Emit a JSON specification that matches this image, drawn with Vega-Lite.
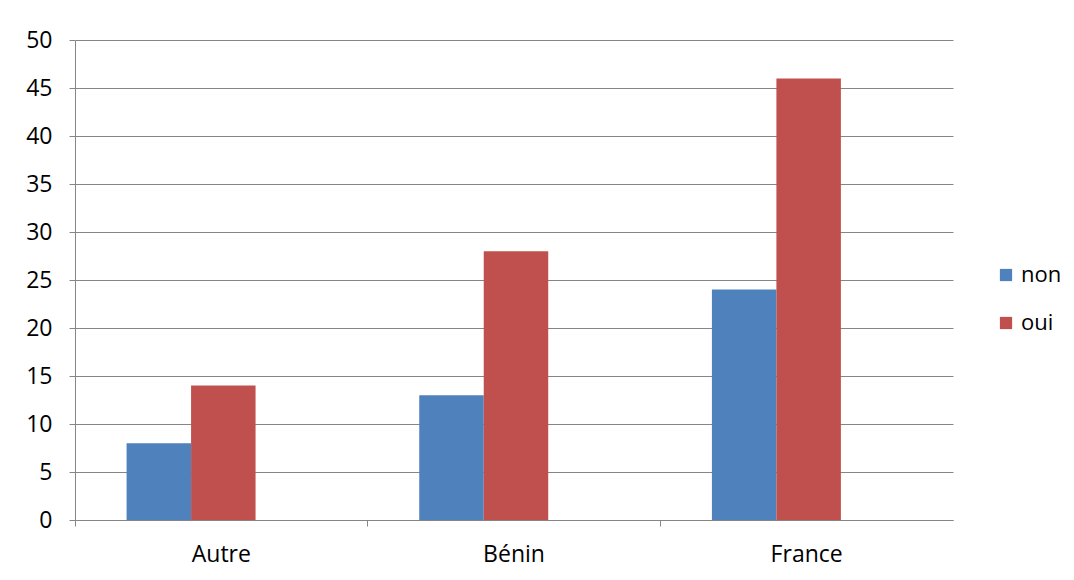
{
  "$schema": "https://vega.github.io/schema/vega-lite/v6.json",
  "autosize": {"type": "none"},
  "width": 878,
  "height": 480,
  "padding": {"left": 75, "top": 40, "right": 121, "bottom": 60},
  "background": "white",
  "data": {
    "values": [
      {"pays": "Autre", "reponse": "non", "n": 8},
      {"pays": "Autre", "reponse": "oui", "n": 14},
      {"pays": "Bénin", "reponse": "non", "n": 13},
      {"pays": "Bénin", "reponse": "oui", "n": 28},
      {"pays": "France", "reponse": "non", "n": 24},
      {"pays": "France", "reponse": "oui", "n": 46}
    ]
  },
  "mark": {"type": "bar"},
  "encoding": {
    "x": {
      "field": "pays",
      "type": "nominal",
      "sort": ["Autre", "Bénin", "France"],
      "scale": {"paddingInner": 0, "paddingOuter": 0},
      "axis": {
        "title": null,
        "labelAngle": 0,
        "bandPosition": 0,
        "grid": false,
        "ticks": true,
        "tickSize": 6,
        "tickColor": "#868686",
        "domainColor": "#868686",
        "labelPadding": 17,
        "labelFontSize": 23,
        "labelFont": "Open Sans",
        "labelColor": "#000000",
        "labelOffset": 0
      }
    },
    "xOffset": {
      "field": "reponse",
      "type": "nominal",
      "scale": {"domain": ["non", "oui", "_"], "paddingInner": 0, "paddingOuter": 0.769, "align": 0.52}
    },
    "y": {
      "field": "n",
      "type": "quantitative",
      "scale": {"domain": [0, 50]},
      "axis": {
        "title": null,
        "values": [0, 5, 10, 15, 20, 25, 30, 35, 40, 45, 50],
        "grid": true,
        "gridColor": "#868686",
        "gridOpacity": 1,
        "tickSize": 6,
        "tickColor": "#868686",
        "domainColor": "#868686",
        "labelPadding": 17,
        "labelFontSize": 23,
        "labelFont": "Open Sans",
        "labelColor": "#000000"
      }
    },
    "color": {
      "field": "reponse",
      "type": "nominal",
      "scale": {"domain": ["non", "oui"], "range": ["#4F81BD", "#C0504D"]},
      "legend": {
        "title": null,
        "orient": "none",
        "legendX": 920,
        "legendY": 224,
        "symbolType": "square",
        "symbolSize": 150,
        "symbolStrokeWidth": 0,
        "symbolOpacity": 1,
        "labelFontSize": 22,
        "labelFont": "Open Sans",
        "labelColor": "#000000",
        "labelOffset": 4,
        "rowPadding": 26
      }
    }
  },
  "config": {
    "view": {"stroke": null},
    "axis": {"domainWidth": 1, "gridWidth": 1}
  }
}
